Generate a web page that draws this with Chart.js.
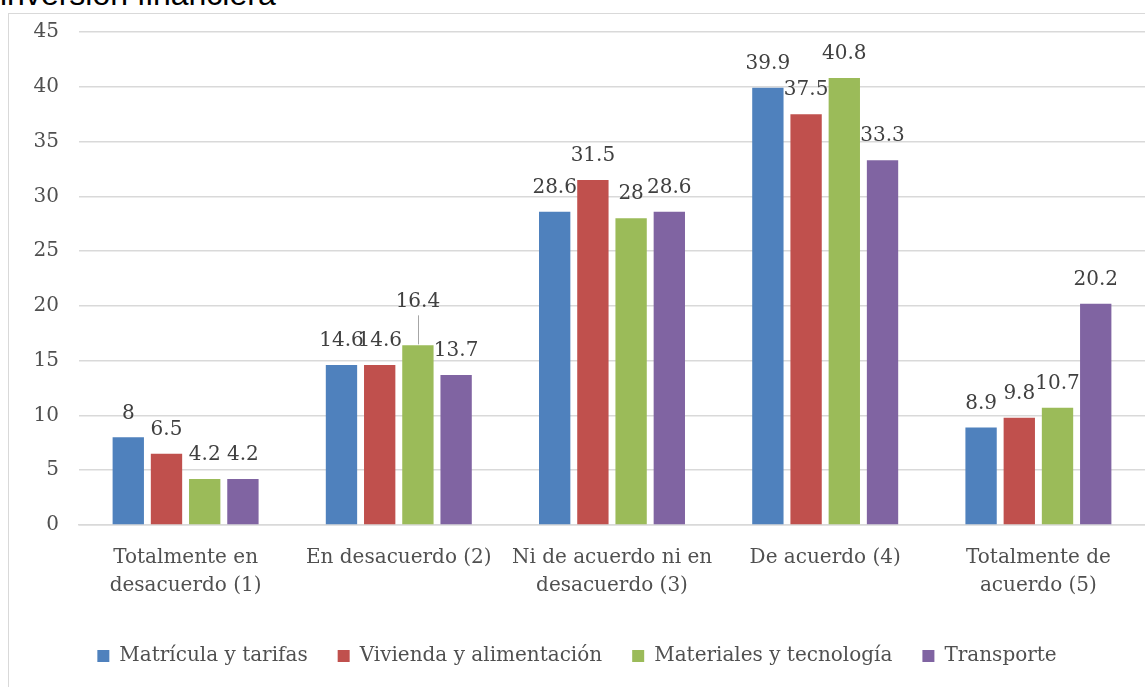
<!DOCTYPE html>
<html>
<head>
<meta charset="utf-8">
<script src="https://cdn.jsdelivr.net/npm/chart.js@4.4.1/dist/chart.umd.min.js"></script>
<style>
  html,body{margin:0;padding:0;background:#fff;overflow:hidden;}
  #cut{position:absolute;left:0;top:-22px;font:32px/33px "Liberation Sans",sans-serif;color:#000;white-space:nowrap;}
  #box{position:absolute;left:8px;top:13px;width:1140px;height:700px;border:1px solid #d9d9d9;box-sizing:border-box;}
  #wrap{position:absolute;left:0;top:-14px;width:1136px;height:687px;}
</style>
</head>
<body>
<div id="cut">inversión financiera</div>
<div id="box"><div id="wrap"><canvas id="chart"></canvas></div></div>
<script>
const $ = s => document.querySelector(s);

// categories
const categories = [
  ['Totalmente en','desacuerdo (1)'],
  'En desacuerdo (2)',
  ['Ni de acuerdo ni en','desacuerdo (3)'],
  'De acuerdo (4)',
  ['Totalmente de','acuerdo (5)']
];

// series
const matricula  = [8, 14.6, 28.6, 39.9, 8.9];
const vivienda   = [6.5, 14.6, 31.5, 37.5, 9.8];
const materiales = [4.2, 16.4, 28, 40.8, 10.7];
const transporte = [4.2, 13.7, 28.6, 33.3, 20.2];

const seriesNames = ['Matrícula y tarifas','Vivienda y alimentación','Materiales y tecnología','Transporte'];
const colors = ['#4f81bd','#c0504d','#9bbb59','#8064a2'];

const fontFam = '"DejaVu Serif", serif';
const axisColor = '#505050';

// labels lifted off the bar (excel moved this one, with a leader line)
const lifted = {'2-1': 20};

const barLabels = {
  id:'barLabels',
  afterDatasetsDraw(chart){
    const c = chart.ctx;
    c.save();
    c.font = `20px ${fontFam}`;
    c.fillStyle = '#404040';
    c.textAlign = 'center';
    c.textBaseline = 'middle';
    chart.data.datasets.forEach((ds,di)=>{
      chart.getDatasetMeta(di).data.forEach((bar,i)=>{
        const lift = lifted[di+'-'+i] || 0;
        const y = bar.y - 24 - lift;
        if(lift){
          c.strokeStyle = '#a6a6a6';
          c.lineWidth = 1;
          c.beginPath();
          c.moveTo(Math.round(bar.x)+0.5, y+14);
          c.lineTo(Math.round(bar.x)+0.5, bar.y-1);
          c.stroke();
        }
        c.fillText(String(ds.data[i]), bar.x, y);
      });
    });
    c.restore();
  }
};

new Chart($('#chart'),{
  type:'bar',
  data:{
    labels:categories,
    datasets:[matricula,vivienda,materiales,transporte].map((d,k)=>({
      label:seriesNames[k],data:d,backgroundColor:colors[k],
      categoryPercentage:0.717,barPercentage:0.82
    }))
  },
  options:{
    responsive:true,maintainAspectRatio:false,animation:false,
    layout:{padding:{top:4,right:0,left:0,bottom:11}},
    scales:{
      y:{min:0,max:45,
        ticks:{stepSize:5,color:axisColor,font:{family:fontFam,size:20},padding:20},
        grid:{color:'#d9d9d9',lineWidth:1.5,drawTicks:false},
        border:{display:false},
        afterFit:s=>{s.width=70;}
      },
      x:{
        ticks:{color:axisColor,font:{family:fontFam,size:20,lineHeight:1.4},padding:19,maxRotation:0,autoSkip:false},
        grid:{display:false,drawTicks:false},
        border:{color:'#d9d9d9',width:1.5},
        afterFit:s=>{s.height=91;}
      }
    },
    plugins:{
      legend:{position:'bottom',
        labels:{color:axisColor,font:{family:fontFam,size:20},boxWidth:12,boxHeight:12,padding:30}
      },
      tooltip:{enabled:false}
    }
  },
  plugins:[barLabels]
});
</script>
</body>
</html>
